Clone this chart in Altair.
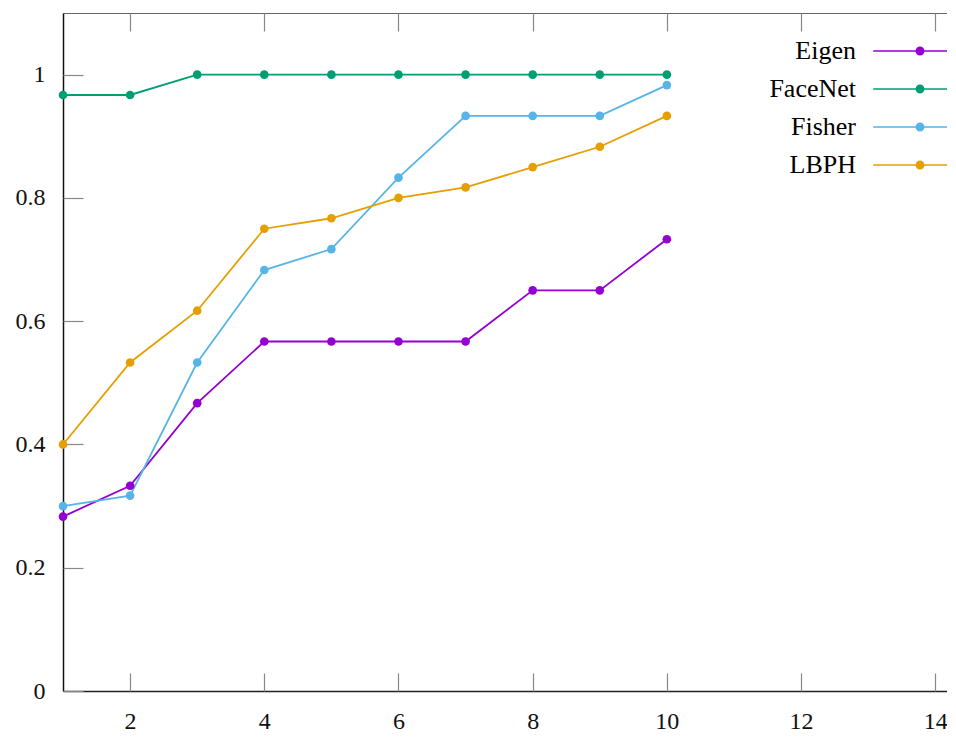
import altair as alt
import pandas as pd

x_vals = [1, 2, 3, 4, 5, 6, 7, 8, 9, 10]
eigen = [0.283, 0.333, 0.467, 0.567, 0.567, 0.567, 0.567, 0.65, 0.65, 0.733]
facenet = [0.967, 0.967, 1.0, 1.0, 1.0, 1.0, 1.0, 1.0, 1.0, 1.0]
fisher = [0.3, 0.317, 0.533, 0.683, 0.717, 0.833, 0.933, 0.933, 0.933, 0.983]
lbph = [0.4, 0.533, 0.617, 0.75, 0.767, 0.8, 0.817, 0.85, 0.883, 0.933]
series_names = ["Eigen", "FaceNet", "Fisher", "LBPH"]
series_colors = ["#9400d3", "#009e73", "#56b4e9", "#e69f00"]
x_ticks = [2, 4, 6, 8, 10, 12, 14]
y_ticks = [0, 0.2, 0.4, 0.6, 0.8, 1]

rows = []
for name, vals in zip(series_names, [eigen, facenet, fisher, lbph]):
    for xv, yv in zip(x_vals, vals):
        rows.append({"n": xv, "acc": yv, "method": name})
df = pd.DataFrame(rows)

FONT = "Liberation Serif"
xscale = alt.Scale(domain=[1, 14.175], nice=False, zero=False)
yscale = alt.Scale(domain=[0, 1.1], nice=False, zero=False)
cscale = alt.Scale(domain=series_names, range=series_colors)

base = alt.Chart(df)

lab = dict(labelFont=FONT, labelFontSize=24, labelColor="#111111")

ax_bottom = alt.Axis(orient="bottom", values=x_ticks, ticks=False, tickSize=0, domain=True,
                     domainColor="#222222", domainWidth=1.5, labelPadding=37,
                     labelBaseline="alphabetic", title=None, grid=False, **lab)
ax_left = alt.Axis(orient="left", values=y_ticks, ticks=False, tickSize=0, domain=True, format="~g",
                   domainColor="#111111", domainWidth=1.5, labelPadding=18, title=None, grid=False, **lab)
ax_bottom_t = alt.Axis(orient="bottom", values=x_ticks, ticks=True, tickSize=18, offset=-18, domain=False,
                       labels=False, tickColor="#888888", tickWidth=1.2, title=None, grid=False)
ax_left_t = alt.Axis(orient="left", values=y_ticks, ticks=True, tickSize=20, offset=-20, domain=False,
                     labels=False, tickColor="#888888", tickWidth=1.2, title=None, grid=False)
ax_top = alt.Axis(orient="top", values=x_ticks, ticks=False, tickSize=0, domain=True, labels=False,
                  domainColor="#666666", domainWidth=1.2, title=None, grid=False)
ax_top_t = alt.Axis(orient="top", values=x_ticks, ticks=True, tickSize=18, offset=-18, domain=False,
                    labels=False, tickColor="#888888", tickWidth=1.2, title=None, grid=False)

# legend symbol: horizontal line plus a disc made of concentric rings
sym = ("M-10.4,0L10.4,0"
       "M-0.8,0A0.8,0.8 0 1,0 0.8,0A0.8,0.8 0 1,0 -0.8,0"
       "M-0.5,0A0.5,0.5 0 1,0 0.5,0A0.5,0.5 0 1,0 -0.5,0"
       "M-0.2,0A0.2,0.2 0 1,0 0.2,0A0.2,0.2 0 1,0 -0.2,0")

legend = alt.Legend(
    orient="none", legendX=844, legendY=25, title=None,
    symbolType=sym, symbolSize=81, symbolStrokeWidth=1.7,
    labelAlign="right", labelOffset={"expr": "-77"},
    labelFont=FONT, labelFontSize=26, labelColor="#000000",
    rowPadding=12,
)

lines = base.mark_line(strokeWidth=1.8).encode(
    x=alt.X("n:Q", scale=xscale, axis=ax_bottom),
    y=alt.Y("acc:Q", scale=yscale, axis=ax_left),
    color=alt.Color("method:N", scale=cscale, legend=legend),
)

points = base.mark_point(filled=True, size=75, opacity=1).encode(
    x=alt.X("n:Q", scale=xscale, axis=ax_bottom_t),
    y=alt.Y("acc:Q", scale=yscale, axis=ax_left_t),
    color=alt.Color("method:N", scale=cscale, legend=None),
)

top1 = base.mark_point(opacity=0).encode(
    x=alt.X("n:Q", scale=xscale, axis=ax_top),
    y=alt.Y("acc:Q", scale=yscale, axis=None),
)
top2 = base.mark_point(opacity=0).encode(
    x=alt.X("n:Q", scale=xscale, axis=ax_top_t),
    y=alt.Y("acc:Q", scale=yscale, axis=None),
)

chart = alt.layer(lines, points, top1, top2).resolve_axis(
    x="independent", y="independent"
).properties(
    width=884, height=678,
    autosize=alt.AutoSizeParams(type="none"),
    padding={"left": 55, "top": 5, "right": 0, "bottom": 42},
).configure_view(stroke=None).configure_axis(
    labelFont=FONT, labelFontSize=24, labelColor="#111111"
)

chart.save("out.html", embed_options={"renderer": "svg", "actions": False})
